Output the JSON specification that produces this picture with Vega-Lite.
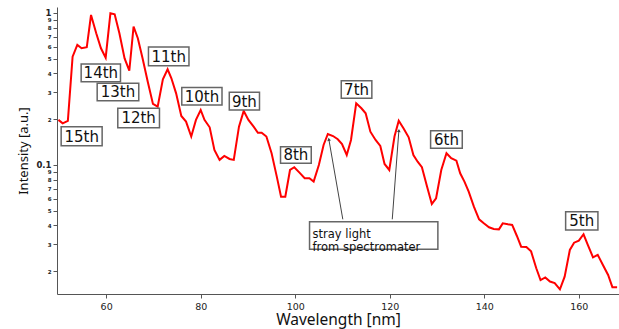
{
  "$schema": "https://vega.github.io/schema/vega-lite/v6.json",
  "width": 562,
  "height": 287,
  "autosize": "none",
  "padding": {"left": 57, "top": 7, "right": 0, "bottom": 35},
  "background": "white",
  "config": {
    "view": {"stroke": null},
    "axis": {"grid": false, "domainColor": "#555", "tickColor": "#555", "labelColor": "#222", "titleColor": "#111", "labelFont": "DejaVu Sans", "titleFont": "Noto Sans", "titleFontWeight": "normal"}
  },
  "datasets": {
    "spectrum": [
      {"wavelength": 49.9, "intensity": 0.198},
      {"wavelength": 50.8, "intensity": 0.188},
      {"wavelength": 51.9, "intensity": 0.195},
      {"wavelength": 52.9, "intensity": 0.516},
      {"wavelength": 53.9, "intensity": 0.616},
      {"wavelength": 54.8, "intensity": 0.586},
      {"wavelength": 55.9, "intensity": 0.595},
      {"wavelength": 56.8, "intensity": 0.970},
      {"wavelength": 57.9, "intensity": 0.735},
      {"wavelength": 58.9, "intensity": 0.586},
      {"wavelength": 59.9, "intensity": 0.508},
      {"wavelength": 60.9, "intensity": 0.995},
      {"wavelength": 61.8, "intensity": 0.980},
      {"wavelength": 62.8, "intensity": 0.735},
      {"wavelength": 63.9, "intensity": 0.503},
      {"wavelength": 64.9, "intensity": 0.417},
      {"wavelength": 65.8, "intensity": 0.813},
      {"wavelength": 66.7, "intensity": 0.682},
      {"wavelength": 67.7, "intensity": 0.503},
      {"wavelength": 68.8, "intensity": 0.353},
      {"wavelength": 69.9, "intensity": 0.252},
      {"wavelength": 70.9, "intensity": 0.242},
      {"wavelength": 72.0, "intensity": 0.366},
      {"wavelength": 73.0, "intensity": 0.426},
      {"wavelength": 73.8, "intensity": 0.372},
      {"wavelength": 74.8, "intensity": 0.296},
      {"wavelength": 75.9, "intensity": 0.210},
      {"wavelength": 76.9, "intensity": 0.193},
      {"wavelength": 78.0, "intensity": 0.154},
      {"wavelength": 79.0, "intensity": 0.198},
      {"wavelength": 80.0, "intensity": 0.230},
      {"wavelength": 80.8, "intensity": 0.198},
      {"wavelength": 81.9, "intensity": 0.177},
      {"wavelength": 82.9, "intensity": 0.1255},
      {"wavelength": 84.0, "intensity": 0.108},
      {"wavelength": 85.0, "intensity": 0.1146},
      {"wavelength": 86.1, "intensity": 0.1095},
      {"wavelength": 87.0, "intensity": 0.108},
      {"wavelength": 88.1, "intensity": 0.1786},
      {"wavelength": 89.1, "intensity": 0.2266},
      {"wavelength": 90.1, "intensity": 0.198},
      {"wavelength": 91.2, "intensity": 0.1786},
      {"wavelength": 92.1, "intensity": 0.163},
      {"wavelength": 92.9, "intensity": 0.163},
      {"wavelength": 93.9, "intensity": 0.154},
      {"wavelength": 95.0, "intensity": 0.1194},
      {"wavelength": 96.1, "intensity": 0.0838},
      {"wavelength": 97.0, "intensity": 0.0619},
      {"wavelength": 97.9, "intensity": 0.0619},
      {"wavelength": 98.9, "intensity": 0.0927},
      {"wavelength": 99.8, "intensity": 0.0966},
      {"wavelength": 100.9, "intensity": 0.089},
      {"wavelength": 102.0, "intensity": 0.0818},
      {"wavelength": 103.0, "intensity": 0.0818},
      {"wavelength": 103.9, "intensity": 0.0777},
      {"wavelength": 105.0, "intensity": 0.1},
      {"wavelength": 106.0, "intensity": 0.1354},
      {"wavelength": 106.9, "intensity": 0.160},
      {"wavelength": 108.0, "intensity": 0.155},
      {"wavelength": 109.0, "intensity": 0.1476},
      {"wavelength": 109.9, "intensity": 0.1374},
      {"wavelength": 110.9, "intensity": 0.1163},
      {"wavelength": 111.8, "intensity": 0.146},
      {"wavelength": 112.9, "intensity": 0.2546},
      {"wavelength": 114.0, "intensity": 0.236},
      {"wavelength": 114.9, "intensity": 0.2188},
      {"wavelength": 115.9, "intensity": 0.1656},
      {"wavelength": 117.0, "intensity": 0.146},
      {"wavelength": 118.0, "intensity": 0.1334},
      {"wavelength": 118.9, "intensity": 0.1015},
      {"wavelength": 119.9, "intensity": 0.0927},
      {"wavelength": 121.0, "intensity": 0.154},
      {"wavelength": 121.9, "intensity": 0.1956},
      {"wavelength": 122.9, "intensity": 0.1743},
      {"wavelength": 124.0, "intensity": 0.152},
      {"wavelength": 125.0, "intensity": 0.1163},
      {"wavelength": 125.9, "intensity": 0.1051},
      {"wavelength": 126.8, "intensity": 0.0966},
      {"wavelength": 127.9, "intensity": 0.072},
      {"wavelength": 128.9, "intensity": 0.0554},
      {"wavelength": 129.8, "intensity": 0.0604},
      {"wavelength": 130.9, "intensity": 0.0927},
      {"wavelength": 132.0, "intensity": 0.1194},
      {"wavelength": 133.0, "intensity": 0.1107},
      {"wavelength": 134.1, "intensity": 0.1067},
      {"wavelength": 134.9, "intensity": 0.0882},
      {"wavelength": 135.8, "intensity": 0.0777},
      {"wavelength": 136.7, "intensity": 0.0667},
      {"wavelength": 137.8, "intensity": 0.0532},
      {"wavelength": 138.9, "intensity": 0.0439},
      {"wavelength": 139.9, "intensity": 0.0413},
      {"wavelength": 141.0, "intensity": 0.0389},
      {"wavelength": 142.0, "intensity": 0.0379},
      {"wavelength": 143.1, "intensity": 0.0377},
      {"wavelength": 143.9, "intensity": 0.0413},
      {"wavelength": 145.0, "intensity": 0.0407},
      {"wavelength": 145.9, "intensity": 0.0403},
      {"wavelength": 146.9, "intensity": 0.0341},
      {"wavelength": 147.8, "intensity": 0.029},
      {"wavelength": 148.9, "intensity": 0.0289},
      {"wavelength": 149.9, "intensity": 0.027},
      {"wavelength": 151.0, "intensity": 0.0209},
      {"wavelength": 151.9, "intensity": 0.0175},
      {"wavelength": 152.9, "intensity": 0.0182},
      {"wavelength": 153.9, "intensity": 0.0171},
      {"wavelength": 154.9, "intensity": 0.0167},
      {"wavelength": 156.0, "intensity": 0.0152},
      {"wavelength": 157.0, "intensity": 0.0184},
      {"wavelength": 158.1, "intensity": 0.0276},
      {"wavelength": 159.0, "intensity": 0.0308},
      {"wavelength": 160.0, "intensity": 0.0318},
      {"wavelength": 161.0, "intensity": 0.035},
      {"wavelength": 161.9, "intensity": 0.0298},
      {"wavelength": 163.0, "intensity": 0.0247},
      {"wavelength": 164.0, "intensity": 0.0256},
      {"wavelength": 165.1, "intensity": 0.022},
      {"wavelength": 166.2, "intensity": 0.0189},
      {"wavelength": 167.1, "intensity": 0.0157},
      {"wavelength": 168.1, "intensity": 0.0157}
    ],
    "labels": [
      {"label": "15th", "x1": 50.48, "x2": 59.15, "y1": 0.1786, "y2": 0.1339},
      {"label": "14th", "x1": 54.71, "x2": 63.03, "y1": 0.4619, "y2": 0.3532},
      {"label": "13th", "x1": 58.10, "x2": 66.90, "y1": 0.3447, "y2": 0.265},
      {"label": "12th", "x1": 62.46, "x2": 71.28, "y1": 0.236, "y2": 0.176},
      {"label": "11th", "x1": 68.95, "x2": 77.52, "y1": 0.5975, "y2": 0.450},
      {"label": "10th", "x1": 76.0, "x2": 84.51, "y1": 0.3235, "y2": 0.248},
      {"label": "9th", "x1": 86.05, "x2": 92.44, "y1": 0.301, "y2": 0.230},
      {"label": "8th", "x1": 96.89, "x2": 103.39, "y1": 0.1319, "y2": 0.1026},
      {"label": "7th", "x1": 109.74, "x2": 116.21, "y1": 0.3585, "y2": 0.2747},
      {"label": "6th", "x1": 128.64, "x2": 135.34, "y1": 0.1681, "y2": 0.1288},
      {"label": "5th", "x1": 157.21, "x2": 164.04, "y1": 0.0493, "y2": 0.0374}
    ],
    "note": [
      {"note": "stray light\nfrom spectromater", "x1": 103.03, "x2": 130.18, "y1": 0.04236, "y2": 0.02788}
    ],
    "arrows": [
      {"id": 1, "xa": 110.07, "ya": 0.0439, "xb": 107.11, "yb": 0.1476},
      {"id": 2, "xa": 120.53, "ya": 0.0439, "xb": 121.93, "yb": 0.1686}
    ]
  },
  "layer": [
    {
      "data": {"name": "spectrum"},
      "mark": {"type": "line", "color": "#ff0000", "strokeWidth": 2, "clip": true},
      "encoding": {
        "x": {
          "field": "wavelength", "type": "quantitative",
          "scale": {"domain": [49.6, 168.5], "nice": false, "zero": false},
          "axis": {
            "title": "Wavelength [nm]", "values": [60, 80, 100, 120, 140, 160],
            "tickSize": 4, "labelPadding": 3, "labelFontSize": 9.5,
            "titleFontSize": 15.5, "titleBaseline": "alphabetic", "titleY": 30
          }
        },
        "y": {
          "field": "intensity", "type": "quantitative",
          "scale": {"type": "log", "domain": [0.01416, 1.095], "nice": false},
          "axis": {
            "title": "Intensity [a.u.]",
            "values": [0.02, 0.03, 0.04, 0.05, 0.06, 0.07, 0.08, 0.09, 0.1, 0.2, 0.3, 0.4, 0.5, 0.6, 0.7, 0.8, 0.9, 1],
            "labelExpr": "datum.value == 1 ? '1' : datum.value == 0.1 ? '0.1' : datum.value < 0.1 ? format(datum.value * 100, '.0f') : format(datum.value * 10, '.0f')",
            "labelFontSize": {"condition": {"test": "datum.value == 1 || datum.value == 0.1", "value": 8.5}, "value": 5.5},
            "labelFontWeight": "bold",
            "tickSize": 4, "labelPadding": 2,
            "titleFontSize": 13, "titleAngle": -90, "titleBaseline": "alphabetic",
            "titleAlign": "center", "titleX": -30, "titleY": 143.5
          }
        }
      }
    },
    {
      "data": {"name": "arrows"},
      "mark": {"type": "rule", "color": "#444", "strokeWidth": 1},
      "encoding": {
        "x": {"field": "xa", "type": "quantitative"},
        "y": {"field": "ya", "type": "quantitative"},
        "x2": {"field": "xb"},
        "y2": {"field": "yb"}
      }
    },
    {
      "data": {"name": "arrows"},
      "transform": [{"filter": "datum.id == 1"}],
      "mark": {"type": "point", "shape": "triangle-up", "filled": true, "color": "#444", "size": 14, "opacity": 1, "angle": -10},
      "encoding": {
        "x": {"field": "xb", "type": "quantitative"},
        "y": {"field": "yb", "type": "quantitative"}
      }
    },
    {
      "data": {"name": "arrows"},
      "transform": [{"filter": "datum.id == 2"}],
      "mark": {"type": "point", "shape": "triangle-up", "filled": true, "color": "#444", "size": 14, "opacity": 1, "angle": 4},
      "encoding": {
        "x": {"field": "xb", "type": "quantitative"},
        "y": {"field": "yb", "type": "quantitative"}
      }
    },
    {
      "data": {"name": "labels"},
      "mark": {"type": "rect", "fill": "white", "stroke": "#666", "strokeWidth": 1.5},
      "encoding": {
        "x": {"field": "x1", "type": "quantitative"},
        "x2": {"field": "x2"},
        "y": {"field": "y1", "type": "quantitative"},
        "y2": {"field": "y2"}
      }
    },
    {
      "data": {"name": "labels"},
      "transform": [
        {"calculate": "(datum.x1 + datum.x2) / 2", "as": "xc"},
        {"calculate": "sqrt(datum.y1 * datum.y2)", "as": "yc"}
      ],
      "mark": {"type": "text", "font": "DejaVu Sans", "fontSize": 15, "color": "#111", "align": "center", "baseline": "middle", "dy": 0.5},
      "encoding": {
        "x": {"field": "xc", "type": "quantitative"},
        "y": {"field": "yc", "type": "quantitative"},
        "text": {"field": "label"}
      }
    },
    {
      "data": {"name": "note"},
      "mark": {"type": "rect", "fill": "white", "stroke": "#666", "strokeWidth": 1.5},
      "encoding": {
        "x": {"field": "x1", "type": "quantitative"},
        "x2": {"field": "x2"},
        "y": {"field": "y1", "type": "quantitative"},
        "y2": {"field": "y2"}
      }
    },
    {
      "data": {"name": "note"},
      "transform": [{"calculate": "sqrt(datum.y1 * datum.y2)", "as": "yc"}],
      "mark": {"type": "text", "font": "DejaVu Sans", "fontSize": 11.5, "lineHeight": 12.5, "lineBreak": "\n", "color": "#111", "align": "left", "baseline": "middle", "dx": 3},
      "encoding": {
        "x": {"field": "x1", "type": "quantitative"},
        "y": {"field": "yc", "type": "quantitative"},
        "text": {"field": "note"}
      }
    }
  ]
}
